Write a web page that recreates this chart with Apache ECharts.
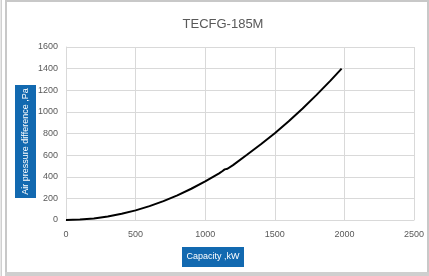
<!DOCTYPE html>
<html>
<head>
<meta charset="utf-8">
<script src="https://cdn.jsdelivr.net/npm/echarts@6/dist/echarts.min.js"></script>
<style>
  html, body { margin: 0; padding: 0; background: #fff; }
  #main { width: 429px; height: 276px; }
</style>
</head>
<body>
<div id="main"></div>
<script>
// capacity (kW) vs air pressure difference (Pa)
var capacityLow = [0, 100, 200, 300, 400, 500, 600, 700, 800, 900, 1000, 1100, 1125];
var pressureLow = [0, 4, 14, 32, 57, 89, 128, 175, 228, 289, 357, 432, 453];
var capacityHigh = [1140, 1160, 1200, 1300, 1400, 1500, 1600, 1700, 1800, 1900, 1980];
var pressureHigh = [468, 474, 508, 603, 700, 803, 914, 1032, 1157, 1289, 1400];

var titleText = 'TECFG-185M';
var xTitle = 'Capacity ,kW';
var yTitle = 'Air pressure difference ,Pa';

var pts = [];
for (var i = 0; i < capacityLow.length; i++) pts.push([capacityLow[i], pressureLow[i]]);
for (var j = 0; j < capacityHigh.length; j++) pts.push([capacityHigh[j], pressureHigh[j]]);

var fontFam = '"Liberation Sans", Arial, sans-serif';
var chart = echarts.init(document.getElementById('main'), null, { renderer: 'canvas' });

function plain(v) { return String(v); }

var option = {
  animation: false,
  title: {
    text: titleText,
    left: 218,
    textAlign: 'center',
    top: 13,
    textStyle: { fontFamily: fontFam, fontSize: 13, fontWeight: 'normal', color: '#595959' }
  },
  grid: { left: 66, right: 15, top: 47, bottom: 56, containLabel: false },
  xAxis: {
    type: 'value',
    min: 0,
    max: 2500,
    interval: 500,
    axisLine: { show: true, lineStyle: { color: '#d9d9d9' } },
    axisTick: { show: false },
    axisLabel: { color: '#595959', fontFamily: fontFam, fontSize: 9, margin: 10, formatter: plain },
    splitLine: { show: true, lineStyle: { color: '#d9d9d9' } }
  },
  yAxis: {
    type: 'value',
    min: 0,
    max: 1600,
    interval: 200,
    axisLine: { show: true, lineStyle: { color: '#d9d9d9' } },
    axisTick: { show: false },
    axisLabel: { color: '#595959', fontFamily: fontFam, fontSize: 9, margin: 8, formatter: plain },
    splitLine: { show: true, lineStyle: { color: '#d9d9d9' } }
  },
  series: [{
    type: 'line',
    data: pts,
    showSymbol: false,
    smooth: false,
    lineStyle: { color: '#000', width: 2 }
  }],
  graphic: [
    // frame lines
    { type: 'rect', shape: { x: 0.5, y: 0, width: 1.5, height: 276 }, style: { fill: '#d0d0d0' }, silent: true },
    { type: 'rect', shape: { x: 5, y: 0, width: 2, height: 274 }, style: { fill: '#c8c8c8' }, silent: true },
    { type: 'rect', shape: { x: 5, y: 0, width: 424, height: 2 }, style: { fill: '#c8c8c8' }, silent: true },
    { type: 'rect', shape: { x: 427, y: 0, width: 2, height: 274 }, style: { fill: '#c8c8c8' }, silent: true },
    { type: 'rect', shape: { x: 5, y: 272, width: 424, height: 4 }, style: { fill: '#cfcfcf' }, silent: true },
    // y axis title box
    {
      type: 'group',
      children: [
        { type: 'rect', shape: { x: 15, y: 85, width: 21, height: 113 }, style: { fill: '#1269b0' } },
        {
          type: 'text',
          x: 25.5, y: 141.5,
          rotation: Math.PI / 2,
          style: {
            text: yTitle, fill: '#fff', fontFamily: fontFam, fontSize: 9,
            align: 'center', verticalAlign: 'middle'
          }
        }
      ]
    },
    // x axis title box
    {
      type: 'group',
      children: [
        { type: 'rect', shape: { x: 182, y: 247, width: 62, height: 20 }, style: { fill: '#1269b0' } },
        {
          type: 'text',
          x: 213, y: 257,
          style: {
            text: xTitle, fill: '#fff', fontFamily: fontFam, fontSize: 9,
            align: 'center', verticalAlign: 'middle'
          }
        }
      ]
    }
  ]
};

chart.setOption(option);
</script>
</body>
</html>
